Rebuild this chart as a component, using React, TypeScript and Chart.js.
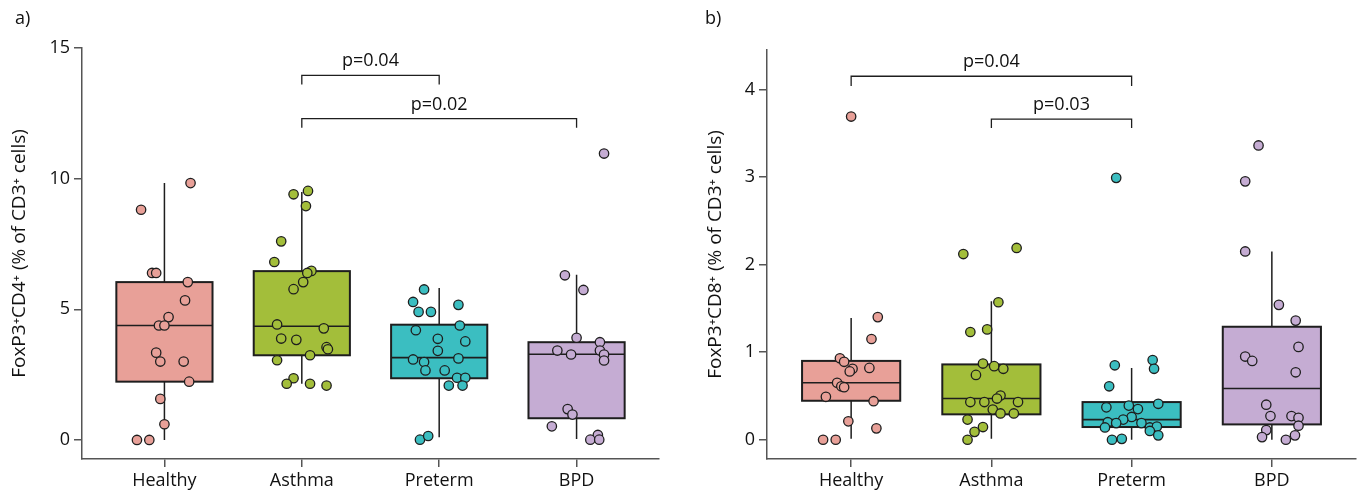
import React, { useEffect, useRef } from "react";
import { Chart, registerables } from "chart.js";
Chart.register(...registerables);

const FONT = "'Open Sans', 'Noto Sans', sans-serif";
const categories = ["Healthy", "Asthma", "Preterm", "BPD"];
const groupColors = ["#E8A098", "#A3BE3A", "#3BBEC1", "#C5ACD3"];

// ---- Panel a: FoxP3+CD4+ ----
const cd4Ticks = [0, 5, 10, 15];
// [min, q1, median, q3, max]
const cd4Boxes = [
  [0, 2.23, 4.38, 6.04, 9.83],
  [2.15, 3.24, 4.35, 6.46, 9.49],
  [0.1, 2.36, 3.15, 4.41, 5.81],
  [0.04, 0.83, 3.28, 3.74, 6.32],
];
const cd4Healthy = [9.83, 8.81, 6.39, 6.39, 6.04, 5.34, 4.7, 4.38, 4.38, 3.34, 3.0, 3.0, 2.23, 1.57, 0.6, 0, 0];
const cd4HealthyJit = [0.19, -0.17, -0.09, -0.06, 0.17, 0.15, 0.03, -0.04, 0.0, -0.06, -0.03, 0.14, 0.18, -0.03, 0.0, -0.2, -0.11];
const cd4Asthma = [9.53, 9.4, 8.95, 7.6, 6.81, 6.47, 6.39, 6.04, 5.77, 4.42, 4.27, 3.88, 3.83, 3.55, 3.47, 3.24, 3.05, 2.36, 2.15, 2.15, 2.08];
const cd4AsthmaJit = [0.045, -0.06, 0.03, -0.15, -0.2, 0.07, 0.04, 0.01, -0.06, -0.18, 0.16, -0.15, -0.04, 0.18, 0.19, 0.06, -0.18, -0.06, -0.11, 0.06, 0.18];
const cd4Preterm = [5.76, 5.28, 5.17, 4.9, 4.9, 4.38, 4.2, 3.87, 3.77, 3.41, 3.08, 3.12, 2.98, 2.66, 2.66, 2.38, 2.38, 2.08, 2.08, 0.01, 0.15];
const cd4PretermJit = [-0.11, -0.19, 0.14, -0.15, -0.06, 0.15, -0.17, -0.01, 0.19, -0.01, -0.19, 0.14, -0.11, -0.1, 0.04, 0.13, 0.19, 0.07, 0.17, -0.14, -0.08];
const cd4Bpd = [10.96, 6.3, 5.74, 3.91, 3.74, 3.42, 3.27, 3.42, 3.27, 3.04, 1.18, 0.97, 0.52, 0.19, 0.01, 0.01];
const cd4BpdJit = [0.2, -0.085, 0.05, 0.0, 0.17, -0.14, -0.04, 0.17, 0.2, 0.2, -0.065, -0.03, -0.18, 0.155, 0.1, 0.165];

// ---- Panel b: FoxP3+CD8+ ----
const cd8Ticks = [0, 1, 2, 3, 4];
const cd8Boxes = [
  [0.01, 0.445, 0.65, 0.9, 1.39],
  [0.01, 0.29, 0.47, 0.86, 1.58],
  [0, 0.145, 0.23, 0.43, 0.82],
  [0, 0.175, 0.585, 1.29, 2.15],
];
const cd8Healthy = [3.69, 1.4, 1.15, 0.93, 0.89, 0.81, 0.78, 0.82, 0.65, 0.61, 0.6, 0.49, 0.44, 0.21, 0.13, 0, 0];
const cd8HealthyJit = [0, 0.19, 0.145, -0.08, -0.05, 0.01, -0.01, 0.13, -0.1, -0.07, -0.05, -0.18, 0.16, -0.02, 0.18, -0.2, -0.11];
const cd8Asthma = [2.19, 2.12, 1.57, 1.23, 1.26, 0.87, 0.84, 0.81, 0.74, 0.505, 0.47, 0.43, 0.43, 0.43, 0.345, 0.3, 0.3, 0.23, 0.145, 0.09, 0.0];
const cd8AsthmaJit = [0.18, -0.2, 0.05, -0.15, -0.03, -0.06, 0.02, 0.085, -0.11, 0.065, 0.04, -0.15, -0.05, 0.19, 0.01, 0.065, 0.16, -0.17, -0.06, -0.12, -0.17];
const cd8Preterm = [2.99, 0.85, 0.91, 0.81, 0.61, 0.37, 0.39, 0.35, 0.41, 0.26, 0.23, 0.2, 0.19, 0.14, 0.19, 0.14, 0.15, 0.1, 0.05, 0.0, 0.01];
const cd8PretermJit = [-0.11, -0.12, 0.15, 0.16, -0.16, -0.18, -0.02, 0.045, 0.19, 0.0, -0.06, -0.17, -0.11, -0.19, 0.07, 0.13, 0.18, 0.13, 0.19, -0.14, -0.07];
const cd8Bpd = [3.36, 2.95, 2.15, 1.54, 1.36, 1.06, 0.95, 0.9, 0.77, 0.4, 0.27, 0.27, 0.25, 0.16, 0.11, 0.03, 0.05, 0.0];
const cd8BpdJit = [-0.095, -0.19, -0.19, 0.05, 0.17, 0.19, -0.19, -0.14, 0.17, -0.04, -0.01, 0.14, 0.19, 0.19, -0.04, -0.07, 0.165, 0.1];

// significance brackets: [fromIdx, toIdx, lineY, tickBottomY, label]
const cd4Brackets: [number, number, number, number, string][] = [
  [1, 2, 13.95, 13.6, "p=0.04"],
  [1, 3, 12.3, 11.95, "p=0.02"],
];
const cd8Brackets: [number, number, number, number, string][] = [
  [0, 2, 4.15, 4.04, "p=0.04"],
  [1, 2, 3.66, 3.56, "p=0.03"],
];

const INK = "#111111";
const AXIS = "#555555";

const boxPlugin = {
  id: "boxes",
  beforeDatasetsDraw(chart: any, _a: any, opts: any) {
    const { ctx } = chart;
    const xs = chart.scales.x, ys = chart.scales.y;
    const hwU = opts.halfWidth;
    ctx.save();
    opts.stats.forEach((s: number[], i: number) => {
      const [mn, q1, md, q3, mx] = s;
      const cx = xs.getPixelForValue(i);
      const l = xs.getPixelForValue(i - hwU), r = xs.getPixelForValue(i + hwU);
      ctx.strokeStyle = "#1e1e1e";
      ctx.lineWidth = 1.5;
      ctx.beginPath();
      ctx.moveTo(cx, ys.getPixelForValue(mx));
      ctx.lineTo(cx, ys.getPixelForValue(q3));
      ctx.moveTo(cx, ys.getPixelForValue(q1));
      ctx.lineTo(cx, ys.getPixelForValue(mn));
      ctx.stroke();
      const t = ys.getPixelForValue(q3), b = ys.getPixelForValue(q1);
      ctx.fillStyle = opts.colors[i];
      ctx.fillRect(l, t, r - l, b - t);
      ctx.lineWidth = 2;
      ctx.strokeRect(l, t, r - l, b - t);
      const m = ys.getPixelForValue(md);
      ctx.lineWidth = 1.6;
      ctx.beginPath();
      ctx.moveTo(l, m);
      ctx.lineTo(r, m);
      ctx.stroke();
    });
    ctx.restore();
  },
  afterDatasetsDraw(chart: any, _a: any, opts: any) {
    const { ctx } = chart;
    const xs = chart.scales.x, ys = chart.scales.y;
    ctx.save();
    ctx.strokeStyle = "#1e1e1e";
    ctx.lineWidth = 1.3;
    ctx.fillStyle = INK;
    ctx.font = `18px ${FONT}`;
    ctx.textAlign = "center";
    ctx.textBaseline = "alphabetic";
    opts.brackets.forEach((br: any) => {
      const [f, t, yv, yt, label] = br;
      const x1 = xs.getPixelForValue(f), x2 = xs.getPixelForValue(t);
      const y = ys.getPixelForValue(yv), y2 = ys.getPixelForValue(yt);
      ctx.beginPath();
      ctx.moveTo(x1, y2);
      ctx.lineTo(x1, y);
      ctx.lineTo(x2, y);
      ctx.lineTo(x2, y2);
      ctx.stroke();
      ctx.fillText(label, (x1 + x2) / 2, y - 9);
    });
    ctx.textAlign = "left";
    ctx.fillText(opts.panel, opts.panelX, 24);
    ctx.restore();
  },
};

function makeDatasets(vals: number[][], jits: number[][]) {
  return vals.map((v, i) => ({
    data: v.map((y, j) => ({ x: i + jits[i][j], y })),
    backgroundColor: groupColors[i],
    borderColor: "#1e1e1e",
    borderWidth: 1.3,
    pointRadius: 4.7,
    pointHoverRadius: 4.7,
  }));
}

type PanelProps = {
  vals: number[][];
  jits: number[][];
  boxes: number[][];
  brackets: any[];
  yTicks: number[];
  yMin: number;
  yMax: number;
  title: string;
  panel: string;
  panelX: number;
  padLeft: number;
  titlePad: number;
  axisLeft: number;
  areaRight: number;
  areaTop: number;
};

function Panel(p: PanelProps) {
  const ref = useRef<HTMLCanvasElement>(null);
  useEffect(() => {
    const W = 681, H = 496, bottom = 459;
    const chart = new Chart(ref.current as HTMLCanvasElement, {
      type: "scatter",
      data: { datasets: makeDatasets(p.vals, p.jits) as any },
      plugins: [boxPlugin],
      options: {
        responsive: false,
        animation: false,
        events: [],
        layout: { padding: { left: p.padLeft, right: W - p.areaRight, top: p.areaTop, bottom: 0 } },
        plugins: {
          legend: { display: false },
          tooltip: { enabled: false },
          boxes: {
            stats: p.boxes,
            colors: groupColors,
            halfWidth: 0.35,
            brackets: p.brackets,
            panel: p.panel,
            panelX: p.panelX,
          },
        } as any,
        scales: {
          x: {
            type: "linear",
            min: -0.6,
            max: 3.6,
            afterBuildTicks: (s: any) => {
              s.ticks = categories.map((_, i) => ({ value: i }));
            },
            afterFit: (s: any) => {
              s.height = H - bottom;
            },
            ticks: {
              callback: (v: any) => categories[v as number] ?? "",
              color: INK,
              padding: 3,
              maxRotation: 0,
              font: { size: 18, family: FONT },
            },
            grid: { drawOnChartArea: false, drawTicks: true, tickLength: 8, color: AXIS, lineWidth: 1.5 },
            border: { display: true, color: AXIS, width: 1.5 },
          },
          y: {
            type: "linear",
            min: p.yMin,
            max: p.yMax,
            afterBuildTicks: (s: any) => {
              s.ticks = p.yTicks.map((v) => ({ value: v }));
            },
            afterFit: (s: any) => {
              s.width = p.axisLeft - p.padLeft;
            },
            ticks: {
              color: INK,
              padding: 4,
              font: { size: 18, family: FONT },
            },
            title: {
              display: true,
              text: p.title,
              color: INK,
              padding: { top: p.titlePad, bottom: 0 },
              font: { size: 19, family: FONT },
            },
            grid: { drawOnChartArea: false, drawTicks: true, tickLength: 8, color: AXIS, lineWidth: 1.5 },
            border: { display: true, color: AXIS, width: 1.5 },
          },
        },
      },
    });
    return () => chart.destroy();
  }, []);
  return <canvas ref={ref} width={681} height={496} style={{ width: 681, height: 496, display: "block" }} />;
}

export default function App() {
  return (
    <div style={{ position: "fixed", left: 0, top: 0, width: 1362, height: 496, display: "flex", background: "#fff" }}>
      <Panel
        vals={[cd4Healthy, cd4Asthma, cd4Preterm, cd4Bpd]}
        jits={[cd4HealthyJit, cd4AsthmaJit, cd4PretermJit, cd4BpdJit]}
        boxes={cd4Boxes}
        brackets={cd4Brackets}
        yTicks={cd4Ticks}
        yMin={-0.73}
        yMax={15}
        title="FoxP3⁺CD4⁺ (% of CD3⁺ cells)"
        panel="a)"
        panelX={15}
        padLeft={0}
        titlePad={8}
        axisLeft={82}
        areaRight={659}
        areaTop={48}
      />
      <Panel
        vals={[cd8Healthy, cd8Asthma, cd8Preterm, cd8Bpd]}
        jits={[cd8HealthyJit, cd8AsthmaJit, cd8PretermJit, cd8BpdJit]}
        boxes={cd8Boxes}
        brackets={cd8Brackets}
        yTicks={cd8Ticks}
        yMin={-0.22}
        yMax={4.45}
        title="FoxP3⁺CD8⁺ (% of CD3⁺ cells)"
        panel="b)"
        panelX={24}
        padLeft={0}
        titlePad={23}
        axisLeft={86}
        areaRight={676}
        areaTop={50}
      />
    </div>
  );
}
